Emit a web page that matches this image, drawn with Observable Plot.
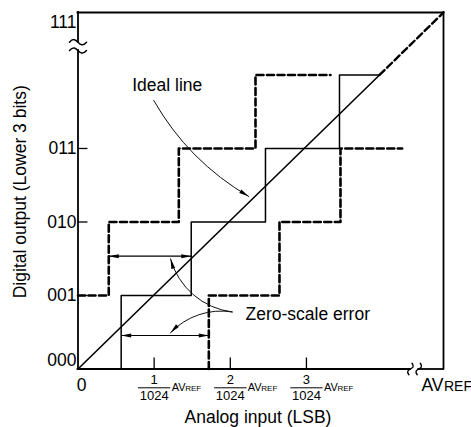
<!DOCTYPE html>
<html><head><meta charset="utf-8">
<script src="https://cdn.jsdelivr.net/npm/d3@7"></script>
<script src="https://cdn.jsdelivr.net/npm/@observablehq/plot@0.6"></script>
<style>
html,body{margin:0;padding:0;background:#fff;}
#chart svg{display:block;}
</style>
</head><body><div id="chart"></div>
<script>
// ---------------- data ----------------
const xMax = 4.80;            // AVREF (LSB units)
const yMax = 4.85;            // code 111
const yTickValues = [1, 2, 3];
const yTickLabels = ["001", "010", "011"];
const yBottomLabel = "000";
const yTopLabel = "111";
const xTickValues = [1, 2, 3];
const xTickNumerators = ["1", "2", "3"];
const xTickDenominator = "1024";
const xZeroLabel = "0";
const xEndLabelMain = "AV";
const xEndLabelSub = "REF";

const solidStepX = [0.567, 1.487, 2.462, 3.434, 3.96];
const solidStepY = [0, 1, 2, 3, 4];
const upperDashX = [0, 0.404, 1.324, 2.331, 3.316];
const upperDashY = [1, 2, 3, 4, 4];
const lowerDashX = [1.718, 2.646, 3.447, 4.257];
const lowerDashY = [0, 1, 2, 3];
const idealSolidX = [0, 3.96];
const idealSolidY = [0, 4.0];
const idealDashX = [3.96, 4.80];
const idealDashY = [4.0, 4.85];

const yAxisBreak = [4.333, 4.446];
const xAxisBreak = [4.366, 4.475];

const zeroSpanY = [1.535, 0.456];
const zeroSpanX1 = [0.404, 0.567];
const zeroSpanX2 = [1.487, 1.718];

const idealLabel = "Ideal line";
const idealLabelPos = [0.712, 3.857];
const idealArrow = [0.995, 3.653, 2.243, 2.347];
const zeroLabel = "Zero-scale error";
const zeroLabelPos = [2.2, 0.746];
const zeroArrowStart = [2.025, 0.776];
const zeroArrowTipsX = [1.215, 1.215];
const zeroArrowTipsY = [1.499, 0.493];

const xTitle = "Analog input (LSB)";
const yTitle = "Digital output (Lower 3 bits)";

// ---------------- build ----------------
const font = "'Liberation Sans', Arial, Helvetica, sans-serif";
const dash = "7,3.5";
const pts = (xs, ys) => xs.map((x, i) => ({x, y: ys[i]}));
const leftSegs = [{y1: 0, y2: yAxisBreak[0]}, {y1: yAxisBreak[1], y2: yMax}];
const bottomSegs = [{x1: 0, x2: xAxisBreak[0]}, {x1: xAxisBreak[1], x2: xMax}];
const spans = zeroSpanY.map((y, i) => ({y, x1: zeroSpanX1[i], x2: zeroSpanX2[i]}));
const heads = [
  {x: idealArrow[2], y: idealArrow[3], rotate: 122},
  {x: zeroArrowTipsX[0], y: zeroArrowTipsY[0], rotate: -16},
  {x: zeroArrowTipsX[1], y: zeroArrowTipsY[1], rotate: 224},
  ...spans.flatMap(s => [{x: s.x1, y: s.y, rotate: 270}, {x: s.x2, y: s.y, rotate: 90}])
];
const barShape = {draw(context, l) { context.moveTo(0, 0); context.lineTo(0, -l); }};
// break mark: a small S-shaped wave ("~") drawn along the vector direction
const waveShape = {draw(context, l, r) {
  context.moveTo(0, 0);
  context.bezierCurveTo(-r, -l * 0.45, r, -l * 0.55, 0, -l);
}};
const big = 17.5;

const chart = Plot.plot({
  width: 471, height: 427,
  marginLeft: 77.5, marginRight: 28, marginTop: 12, marginBottom: 58.5,
  x: {domain: [0, xMax], axis: null},
  y: {domain: [0, yMax], axis: null},
  style: {fontFamily: font, background: "white", color: "black", overflow: "visible"},
  marks: [
    // frame
    Plot.ruleX(leftSegs, {x: 0, y1: "y1", y2: "y2", strokeWidth: 1.8, strokeLinecap: "square"}),
    Plot.ruleY(bottomSegs, {y: 0, x1: "x1", x2: "x2", strokeWidth: 1.8, strokeLinecap: "square"}),
    Plot.ruleY([yMax], {strokeWidth: 1.8, strokeLinecap: "square"}),
    Plot.ruleX([xMax], {strokeWidth: 1.8, strokeLinecap: "square"}),
    // ticks
    Plot.axisY(yTickValues, {tickSize: 10, dx: 10, tickFormat: () => "", label: null, strokeWidth: 1.3}),
    Plot.axisX(xTickValues, {tickSize: 11, dy: -11, tickFormat: () => "", label: null, strokeWidth: 1.3}),
    // axis breaks
    Plot.vector(yAxisBreak, {x: 0, y: d => d, rotate: 90, length: 17, r: 9, anchor: "middle", shape: waveShape, stroke: "black", fill: "none", strokeWidth: 1.5}),
    Plot.vector(xAxisBreak, {x: d => d, y: 0, rotate: 15, length: 12, r: 7, anchor: "middle", shape: waveShape, stroke: "black", fill: "none", strokeWidth: 1.4}),
    // steps
    Plot.line(pts(upperDashX, upperDashY), {x: "x", y: "y", curve: "step-after", strokeWidth: 2.6, strokeDasharray: dash}),
    Plot.line(pts(lowerDashX, lowerDashY), {x: "x", y: "y", curve: "step-before", strokeWidth: 2.6, strokeDasharray: dash}),
    Plot.line(pts(solidStepX, solidStepY), {x: "x", y: "y", curve: "step-before", strokeWidth: 1.5}),
    // ideal line
    Plot.line(pts(idealSolidX, idealSolidY), {x: "x", y: "y", strokeWidth: 1.6}),
    Plot.line(pts(idealDashX, idealDashY), {x: "x", y: "y", strokeWidth: 2.4, strokeDasharray: dash}),
    // annotation arrows
    Plot.arrow([idealArrow], {x1: d => d[0], y1: d => d[1], x2: d => d[2], y2: d => d[3], bend: -15, headLength: 0, strokeWidth: 1, stroke: "#111"}),
    Plot.arrow([0], {x1: zeroArrowStart[0], y1: zeroArrowStart[1], x2: zeroArrowTipsX[0], y2: zeroArrowTipsY[0], bend: 34, headLength: 0, strokeWidth: 1, stroke: "#111"}),
    Plot.arrow([0], {x1: zeroArrowStart[0], y1: zeroArrowStart[1], x2: zeroArrowTipsX[1], y2: zeroArrowTipsY[1], bend: -28, headLength: 0, strokeWidth: 1, stroke: "#111"}),
    Plot.link(spans, {x1: "x1", x2: "x2", y1: "y", y2: "y", strokeWidth: 1.1}),
    Plot.vector(heads, {x: "x", y: "y", rotate: "rotate", length: 10, r: 2, shape: "spike", anchor: "end", fill: "black", stroke: "none"}),
    // y tick labels
    Plot.text(yTickValues, {y: d => d, frameAnchor: "left", text: (d, i) => yTickLabels[i], textAnchor: "end", lineAnchor: "middle", dx: -1.5, fontSize: big}),
    Plot.text([yBottomLabel], {frameAnchor: "bottom-left", text: d => d, textAnchor: "end", lineAnchor: "middle", dx: -1.5, dy: -8.5, fontSize: big}),
    Plot.text([yTopLabel], {frameAnchor: "top-left", text: d => d, textAnchor: "end", lineAnchor: "middle", dx: -1.5, dy: 9.7, fontSize: big}),
    // x tick labels
    Plot.text([xZeroLabel], {frameAnchor: "bottom-left", text: d => d, textAnchor: "middle", dx: 3.5, dy: 21.5, lineAnchor: "bottom", fontSize: big}),
    Plot.text(xTickValues, {x: d => d, frameAnchor: "bottom", text: (d, i) => xTickNumerators[i], textAnchor: "middle", dy: 14.8, lineAnchor: "bottom", fontSize: 13}),
    Plot.vector(xTickValues, {x: d => d, frameAnchor: "bottom", dy: 18.8, rotate: 90, length: 31.5, anchor: "middle", shape: barShape, stroke: "black", strokeWidth: 1}),
    Plot.text(xTickValues, {x: d => d, frameAnchor: "bottom", text: () => xTickDenominator, textAnchor: "middle", dy: 30.8, lineAnchor: "bottom", fontSize: 13}),
    Plot.text(xTickValues, {x: d => d, frameAnchor: "bottom", text: () => xEndLabelMain, textAnchor: "start", dx: 17.5, dy: 22.2, lineAnchor: "bottom", fontSize: 11}),
    Plot.text(xTickValues, {x: d => d, frameAnchor: "bottom", text: () => xEndLabelSub, textAnchor: "start", dx: 31, dy: 22.2, lineAnchor: "bottom", fontSize: 8}),
    Plot.text([xEndLabelMain], {frameAnchor: "bottom-right", text: d => d, textAnchor: "end", dy: 21.5, lineAnchor: "bottom", fontSize: big}),
    Plot.text([xEndLabelSub], {frameAnchor: "bottom-right", text: d => d, textAnchor: "start", dx: 0.5, dy: 21.5, lineAnchor: "bottom", fontSize: 14}),
    // annotations
    Plot.text([idealLabel], {x: idealLabelPos[0], y: idealLabelPos[1], text: d => d, textAnchor: "start", fontSize: big}),
    Plot.text([zeroLabel], {x: zeroLabelPos[0], y: zeroLabelPos[1], text: d => d, textAnchor: "start", fontSize: big}),
    // titles
    Plot.text([xTitle], {frameAnchor: "bottom", text: d => d, textAnchor: "middle", dx: -2.75, dy: 54, lineAnchor: "bottom", fontSize: big}),
    Plot.text([yTitle], {frameAnchor: "left", text: d => d, textAnchor: "middle", lineAnchor: "middle", rotate: -90, dx: -58, dy: 1, fontSize: big})
  ]
});
document.getElementById("chart").appendChild(chart);
</script>
</body></html>
